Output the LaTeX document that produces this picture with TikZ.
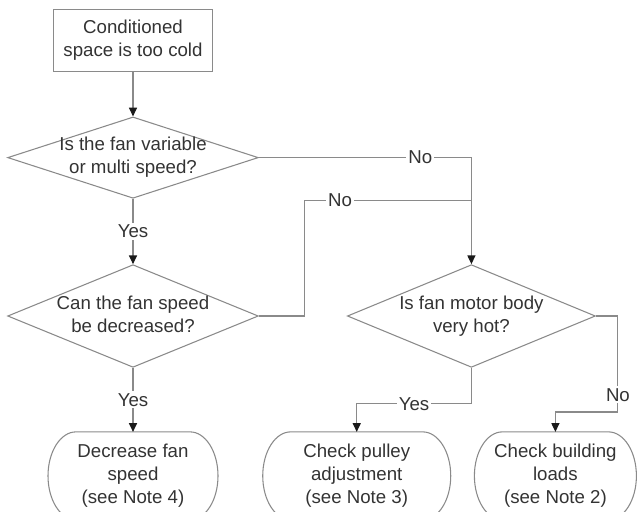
\documentclass[tikz,border=0pt]{standalone}
\usepackage{fontspec}
\setmainfont{Liberation Sans}
\usetikzlibrary{arrows.meta, positioning, shapes.geometric}
\definecolor{linegray}{HTML}{8A8A8A}
\definecolor{textgray}{HTML}{333333}
\definecolor{tipblack}{HTML}{1A1A1A}
\newcommand{\chartfont}{\fontsize{14}{17.25}\selectfont}
\newcommand{\centrelines}[1]{\makebox[0pt]{\begin{tabular}{@{}c@{}}#1\end{tabular}}}
\tikzset{
    link/.style={
        line width=0.8pt, color=linegray
    },
    problem/.style={
        rectangle, draw=linegray, line width=0.8pt,
        minimum width=119pt, minimum height=47pt,
        align=center, text=textgray, font=\chartfont
    },
    decision/.style={
        diamond, draw=linegray, line width=0.8pt,
        minimum width=188pt, minimum height=61pt, inner sep=0pt,
        text=textgray, font=\chartfont
    },
    action/.style={
        rectangle, minimum height=66pt, inner sep=1pt, outer sep=0pt,
        align=center, text=textgray, font=\chartfont,
        append after command={
            \pgfextra{\draw[link] ([xshift=21pt]\tikzlastnode.north west)
                -- ([xshift=-21pt]\tikzlastnode.north east)
                arc[start angle=90, end angle=-90, x radius=21pt, y radius=33pt]
                -- ([xshift=21pt]\tikzlastnode.south west)
                arc[start angle=270, end angle=90, x radius=21pt, y radius=33pt]
                -- cycle;}
        }
    },
    edge label/.style={
        font=\chartfont, text=textgray, fill=white, inner sep=1.5pt
    },
    arr/.style={
        -{Triangle[width=6pt, length=6.5pt, color=tipblack]}, link
    }
}

\begin{document}
\begin{tikzpicture}[node distance=48pt and 66pt]

    \useasboundingbox (0,0) rectangle (478.5pt,-383.25pt);

    % Nodes
    \node[problem] (cold) at (99.75pt,-30.4pt) {Conditioned\\space is too cold};
    \node[decision, below=33pt of cold] (variable) {\centrelines{Is the fan variable\\or multi speed?}};
    \node[decision, below=49pt of variable, minimum height=77pt] (decrease) {\centrelines{Can the fan speed\\be decreased?}};
    \node[decision, right=of decrease, minimum width=186pt, minimum height=77pt] (hot) {\centrelines{Is fan motor body\\very hot?}};
    \node[action, below=of decrease, minimum width=127.5pt] (slowfan) {Decrease fan\\speed\\(see Note 4)};
    \node[action, below=of hot, xshift=-86pt, minimum width=141pt] (pulley) {Check pulley\\adjustment\\(see Note 3)};
    \node[action, below=of hot, xshift=63pt, minimum width=121.5pt] (loads) {Check building\\loads\\(see Note 2)};

    \coordinate (noturn) at (variable.east -| hot.north);
    \coordinate[below=32pt of noturn] (merge);

    % Edges
    \draw[arr] (cold) -- (variable);
    \draw[arr] (variable) -- node[edge label] {Yes} (decrease);
    \draw[arr] (variable.east) -- node[edge label, pos=0.76] {No} (noturn) -- (hot);
    \draw[link] (decrease.east) -- ++(34pt,0) |- node[edge label, pos=0.607] {No} (merge);
    \draw[arr] (decrease) -- node[edge label] {Yes} (slowfan);
    \draw[arr] (hot.south) -- ++(0,-27pt) -| node[edge label, pos=0.25] {Yes} (pulley.north);
    \draw[arr] (hot.east) -- ++(16.5pt,0) -- node[edge label, pos=0.82] {No} ++(0,-72pt) -| (loads.north);

\end{tikzpicture}
\end{document}
